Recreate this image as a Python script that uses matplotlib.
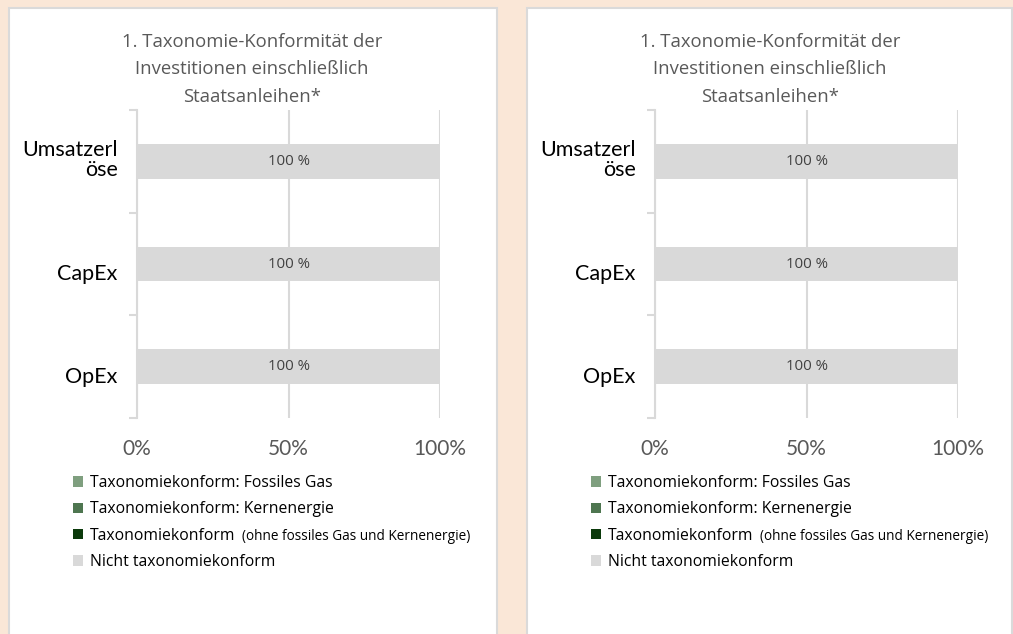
import matplotlib.pyplot as plt
import matplotlib.transforms as mtransforms
from matplotlib.patches import Rectangle

# data
categories = ['Umsatzerl\nöse', 'CapEx', 'OpEx']
fossiles_gas = [0, 0, 0]
kernenergie = [0, 0, 0]
taxo_konform = [0, 0, 0]
nicht_konform = [100, 100, 100]
series_names = ['Taxonomiekonform: Fossiles Gas', 'Taxonomiekonform: Kernenergie',
                'Taxonomiekonform', 'Nicht taxonomiekonform']
series_colors = ['#7F9F7F', '#4E7650', '#0B3A0B', '#D9D9D9']
legend_note = '(ohne fossiles Gas und Kernenergie)'
title = '1. Taxonomie-Konformität der\nInvestitionen einschließlich\nStaatsanleihen*'
xticks = [0, 50, 100]
xtick_labels = ['0%', '50%', '100%']

plt.rcParams['font.family'] = ['Lato', 'DejaVu Sans']
OPEN = ['Open Sans', 'DejaVu Sans']

W, H = 1013, 634
fig = plt.figure(figsize=(W / 100, H / 100), dpi=100)
fig.patch.set_facecolor('#FAE7D7')

GRID = '#D9D9D9'


def px(x, y):
    return x / W, 1 - y / H


panels = [(9, 488), (527, 485)]
legends = []
for off, pw in panels:
    # white card with light grey border
    x0, y0 = px(off, 8)
    fig.add_artist(Rectangle((x0, -0.05), pw / W, y0 + 0.05, transform=fig.transFigure,
                             facecolor='white', edgecolor='#DADADA', lw=1.5, zorder=0))

    ax_l, ax_b = px(off + 128, 418)
    ax = fig.add_axes([ax_l, ax_b, 303 / W, 308 / H])
    ax.set_facecolor('none')

    ypos = [0.5, 1.5, 2.5]
    left = [0, 0, 0]
    bars = []
    for vals, name, col in zip([fossiles_gas, kernenergie, taxo_konform, nicht_konform],
                               series_names, series_colors):
        b = ax.barh(ypos, vals, left=left, height=0.34, color=col, label=name, zorder=3)
        bars.append(b)
        left = [l + v for l, v in zip(left, vals)]
    for rect, v in zip(bars[3], nicht_konform):
        ax.text(rect.get_x() + rect.get_width() / 2, rect.get_y() + rect.get_height() / 2,
                f'{v} %', ha='center', va='center', fontsize=10.8, color='#404040',
                family=OPEN, zorder=4)

    ax.set_xlim(0, 100)
    ax.set_ylim(3, 0)
    ax.set_xticks(xticks)
    ax.set_xticklabels(xtick_labels, fontsize=15, color='#595959')
    ax.tick_params(axis='x', length=0, pad=15)
    ax.set_yticks(ypos)
    ax.set_yticklabels(categories, fontsize=15.5, color='black', linespacing=0.95)
    ax.set_yticks([0, 1, 2, 3], minor=True)
    ax.tick_params(axis='y', which='major', length=0, pad=14)
    ax.tick_params(axis='y', which='minor', length=6, width=1.5, color=GRID)
    # category labels sit a bit off-centre in the original
    for lbl, dy in zip(ax.get_yticklabels(), [3, -8, -8]):
        shift = mtransforms.ScaledTranslation(0, dy / 100, fig.dpi_scale_trans)
        lbl.set_transform(lbl.get_transform() + shift)
    for s in ['top', 'right', 'bottom']:
        ax.spines[s].set_visible(False)
    ax.spines['left'].set_color(GRID)
    ax.spines['left'].set_linewidth(1.5)
    ax.grid(axis='x', color=GRID, lw=1.5, zorder=0)
    ax.set_axisbelow(True)

    tx, ty = px(off + 243, 69.5)
    fig.text(tx, ty, title, ha='center', va='center', fontsize=13.3, color='#595959',
             family=OPEN, linespacing=1.65)

    lx, ly = px(off + 64, 475)
    leg = fig.legend(handles=bars, labels=series_names, loc='upper left',
                     bbox_to_anchor=(lx, ly), frameon=False,
                     prop={'family': OPEN, 'size': 11.3},
                     handlelength=0.64, handleheight=0.64, handletextpad=0.45,
                     labelspacing=0.655, borderpad=0, borderaxespad=0)
    legends.append(leg)

# smaller note after the third legend entry
fig.canvas.draw()
r = fig.canvas.get_renderer()
for leg in legends:
    bb = leg.get_texts()[2].get_window_extent(r)
    fx, fy = fig.transFigure.inverted().transform((bb.x1 + 6, bb.y0))
    fig.text(fx, fy, legend_note, ha='left', va='bottom', fontsize=9.8, color='black',
             family=OPEN)

fig.savefig('out.png', dpi=100, facecolor=fig.get_facecolor())
